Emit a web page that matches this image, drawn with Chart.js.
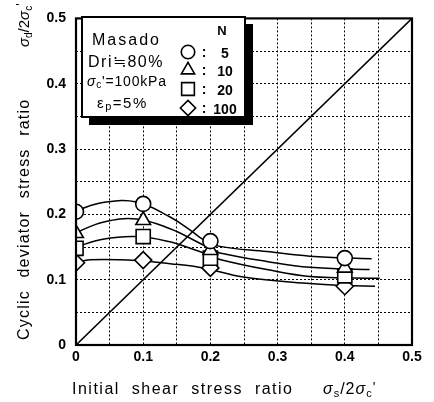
<!DOCTYPE html>
<html>
<head>
<meta charset="utf-8">
<script src="https://cdn.jsdelivr.net/npm/chart.js@4.4.1/dist/chart.umd.min.js"></script>
<style>
  html, body { margin: 0; padding: 0; background: #fff; }
  #chart { display: block; }
</style>
</head>
<body>
<canvas id="chart" width="434" height="402"></canvas>
<script>
// Measured points (initial shear stress ratio vs cyclic deviator stress ratio)
const xValues = [0, 0.1, 0.2, 0.4];
const n5Values = [0.204, 0.216, 0.159, 0.133];
const n10Values = [0.171, 0.191, 0.145, 0.118];
const n20Values = [0.148, 0.166, 0.133, 0.106];
const n100Values = [0.126, 0.130, 0.118, 0.090];

// Fitted curves
const curve5X = [0, 0.04, 0.09, 0.14, 0.17, 0.19, 0.214, 0.284, 0.348, 0.44];
const curve5Y = [0.206, 0.218, 0.219, 0.196, 0.176, 0.161, 0.151, 0.143, 0.136, 0.132];
const curve10X = [0, 0.04, 0.09, 0.14, 0.18, 0.2, 0.214, 0.284, 0.348, 0.437];
const curve10Y = [0.172, 0.188, 0.193, 0.178, 0.158, 0.147, 0.141, 0.128, 0.119, 0.1155];
const curve20X = [0, 0.04, 0.09, 0.14, 0.17, 0.2, 0.214, 0.284, 0.348, 0.452];
const curve20Y = [0.150, 0.162, 0.166, 0.158, 0.148, 0.137, 0.131, 0.1155, 0.105, 0.102];
const curve100X = [0, 0.021, 0.09, 0.14, 0.189, 0.249, 0.348, 0.4, 0.445];
const curve100Y = [0.126, 0.1305, 0.1295, 0.1245, 0.118, 0.104, 0.094, 0.091, 0.090];

// 1:1 line
const diagX = [0, 0.5];
const diagY = [0, 0.5];

const legendN = ["5", "10", "20", "100"];
const markerStyles = ["circle", "triangle", "rect", "rectRot"];
const markerRadius = [7.5, 8.5, 10, 8.5];

const FONT = "'Liberation Sans', Arial, sans-serif";

function pairs(xs, ys) {
  return xs.map((x, i) => ({ x: x, y: ys[i] }));
}

function curveSet(xs, ys) {
  return {
    data: pairs(xs, ys),
    showLine: true,
    borderColor: "#000",
    borderWidth: 1.5,
    pointRadius: 0,
    tension: 0.4,
    order: 2
  };
}

function markerSet(ys, i) {
  return {
    data: pairs(xValues, ys),
    showLine: false,
    pointStyle: markerStyles[i],
    pointRadius: markerRadius[i],
    pointBackgroundColor: "#fff",
    pointBorderColor: "#000",
    pointBorderWidth: 1.6,
    order: 1
  };
}

function drawParts(ctx, parts, x, y) {
  let cx = x;
  parts.forEach(p => {
    ctx.font = p.font;
    ctx.fillText(p.t, cx, y + (p.dy || 0));
    cx += ctx.measureText(p.t).width + (p.gap || 0);
  });
}

const framePlugin = {
  id: "frame",
  afterDraw(chart) {
    const { ctx, chartArea: a } = chart;
    ctx.save();
    ctx.fillStyle = "#000";
    ctx.textBaseline = "alphabetic";
    ctx.textAlign = "left";

    // plot frame
    ctx.strokeStyle = "#000";
    ctx.lineWidth = 2.2;
    ctx.strokeRect(a.left, a.top, a.right - a.left, a.bottom - a.top);

    // x title
    ctx.letterSpacing = "1.5px";
    ctx.wordSpacing = "6px";
    drawParts(ctx, [{ t: "Initial shear stress ratio", font: "16px " + FONT }], 72, 394);
    ctx.wordSpacing = "0px";
    ctx.letterSpacing = "1px";
    drawParts(ctx, [
      { t: "σ", font: "italic 16px " + FONT },
      { t: "s", font: "11px " + FONT, dy: 3 },
      { t: "/2", font: "16px " + FONT },
      { t: "σ", font: "italic 16px " + FONT },
      { t: "c", font: "11px " + FONT, dy: 3 },
      { t: "'", font: "14px " + FONT, dy: -2 }
    ], 323, 394);

    // y title (rotated)
    ctx.save();
    ctx.translate(29, 340);
    ctx.rotate(-Math.PI / 2);
    ctx.letterSpacing = "1.2px";
    ctx.wordSpacing = "7px";
    drawParts(ctx, [{ t: "Cyclic deviator stress ratio", font: "16px " + FONT }], 0, 0);
    ctx.wordSpacing = "0px";
    ctx.letterSpacing = "0px";
    drawParts(ctx, [
      { t: "σ", font: "italic 15px " + FONT },
      { t: "d", font: "10px " + FONT, dy: 3 },
      { t: "/2", font: "15px " + FONT },
      { t: "σ", font: "italic 15px " + FONT },
      { t: "c", font: "10px " + FONT, dy: 3 },
      { t: "'", font: "13px " + FONT, dy: -4 }
    ], 293, 0);
    ctx.restore();

    // legend box with drop shadow
    ctx.letterSpacing = "0px";
    ctx.fillStyle = "#000";
    ctx.fillRect(89, 24, 164, 101);
    ctx.fillStyle = "#fff";
    ctx.fillRect(82, 17, 163, 100);
    ctx.lineWidth = 2;
    ctx.strokeRect(82, 17, 163, 100);

    ctx.fillStyle = "#000";
    ctx.letterSpacing = "2px";
    drawParts(ctx, [{ t: "Masado", font: "16px " + FONT }], 92, 45);
    ctx.letterSpacing = "1.5px";
    drawParts(ctx, [{ t: "Dri≒80%", font: "16px " + FONT }], 88, 67);
    ctx.letterSpacing = "0.8px";
    drawParts(ctx, [
      { t: "σ", font: "italic 14px " + FONT },
      { t: "c", font: "10px " + FONT, dy: 2 },
      { t: "'=100kPa", font: "14px " + FONT }
    ], 87, 86);
    ctx.letterSpacing = "1.5px";
    drawParts(ctx, [
      { t: "ε", font: "15px " + FONT },
      { t: "p", font: "11px " + FONT, dy: 2 },
      { t: "=5%", font: "15px " + FONT }
    ], 97, 108);

    ctx.letterSpacing = "0px";
    ctx.textAlign = "center";
    ctx.font = "bold 13px " + FONT;
    ctx.fillText("N", 222, 35);
    const rows = [52, 70, 89, 108];
    legendN.forEach((n, i) => {
      const y = rows[i];
      ctx.fillStyle = "#000";
      ctx.font = "bold 14px " + FONT;
      ctx.fillText(":", 204, y + 5);
      ctx.fillText(n, 225, y + 6);
      ctx.fillStyle = "#fff";
      ctx.strokeStyle = "#000";
      ctx.lineWidth = 1.6;
      Chart.helpers.drawPoint(ctx, {
        pointStyle: markerStyles[i],
        radius: markerRadius[i] * 0.9,
        rotation: 0,
        borderWidth: 1.6
      }, 188, y);
    });
    ctx.restore();
  }
};

const tickFont = { family: FONT, size: 14, weight: "bold" };

function tickLabel(v) {
  const k = Math.round(v * 100);
  if (k % 10 !== 0) return "";
  return k === 0 ? "0" : (k / 100).toFixed(1);
}

new Chart(document.getElementById("chart"), {
  type: "scatter",
  data: {
    datasets: [
      markerSet(n5Values, 0),
      markerSet(n10Values, 1),
      markerSet(n20Values, 2),
      markerSet(n100Values, 3),
      curveSet(curve5X, curve5Y),
      curveSet(curve10X, curve10Y),
      curveSet(curve20X, curve20Y),
      curveSet(curve100X, curve100Y),
      {
        data: pairs(diagX, diagY),
        showLine: true,
        borderColor: "#000",
        borderWidth: 1.6,
        pointRadius: 0,
        order: 3
      }
    ]
  },
  options: {
    responsive: false,
    animation: false,
    layout: { padding: { left: 0, top: 13, right: 22, bottom: 0 } },
    plugins: {
      legend: { display: false },
      tooltip: { enabled: false }
    },
    scales: {
      x: {
        type: "linear",
        min: 0,
        max: 0.5,
        afterFit: s => { s.height = 57; },
        ticks: { stepSize: 0.05, autoSkip: false, maxRotation: 0, padding: 4, color: "#000", font: tickFont, callback: tickLabel },
        grid: { color: "#000", lineWidth: 1, drawTicks: false },
        border: { display: false, dash: [2, 2] }
      },
      y: {
        type: "linear",
        min: 0,
        max: 0.5,
        afterFit: s => { s.width = 76; },
        ticks: { stepSize: 0.05, autoSkip: false, padding: 10, color: "#000", font: tickFont, callback: tickLabel },
        grid: { color: "#000", lineWidth: 1, drawTicks: false },
        border: { display: false, dash: [2, 2] }
      }
    }
  },
  plugins: [framePlugin]
});
</script>
</body>
</html>
